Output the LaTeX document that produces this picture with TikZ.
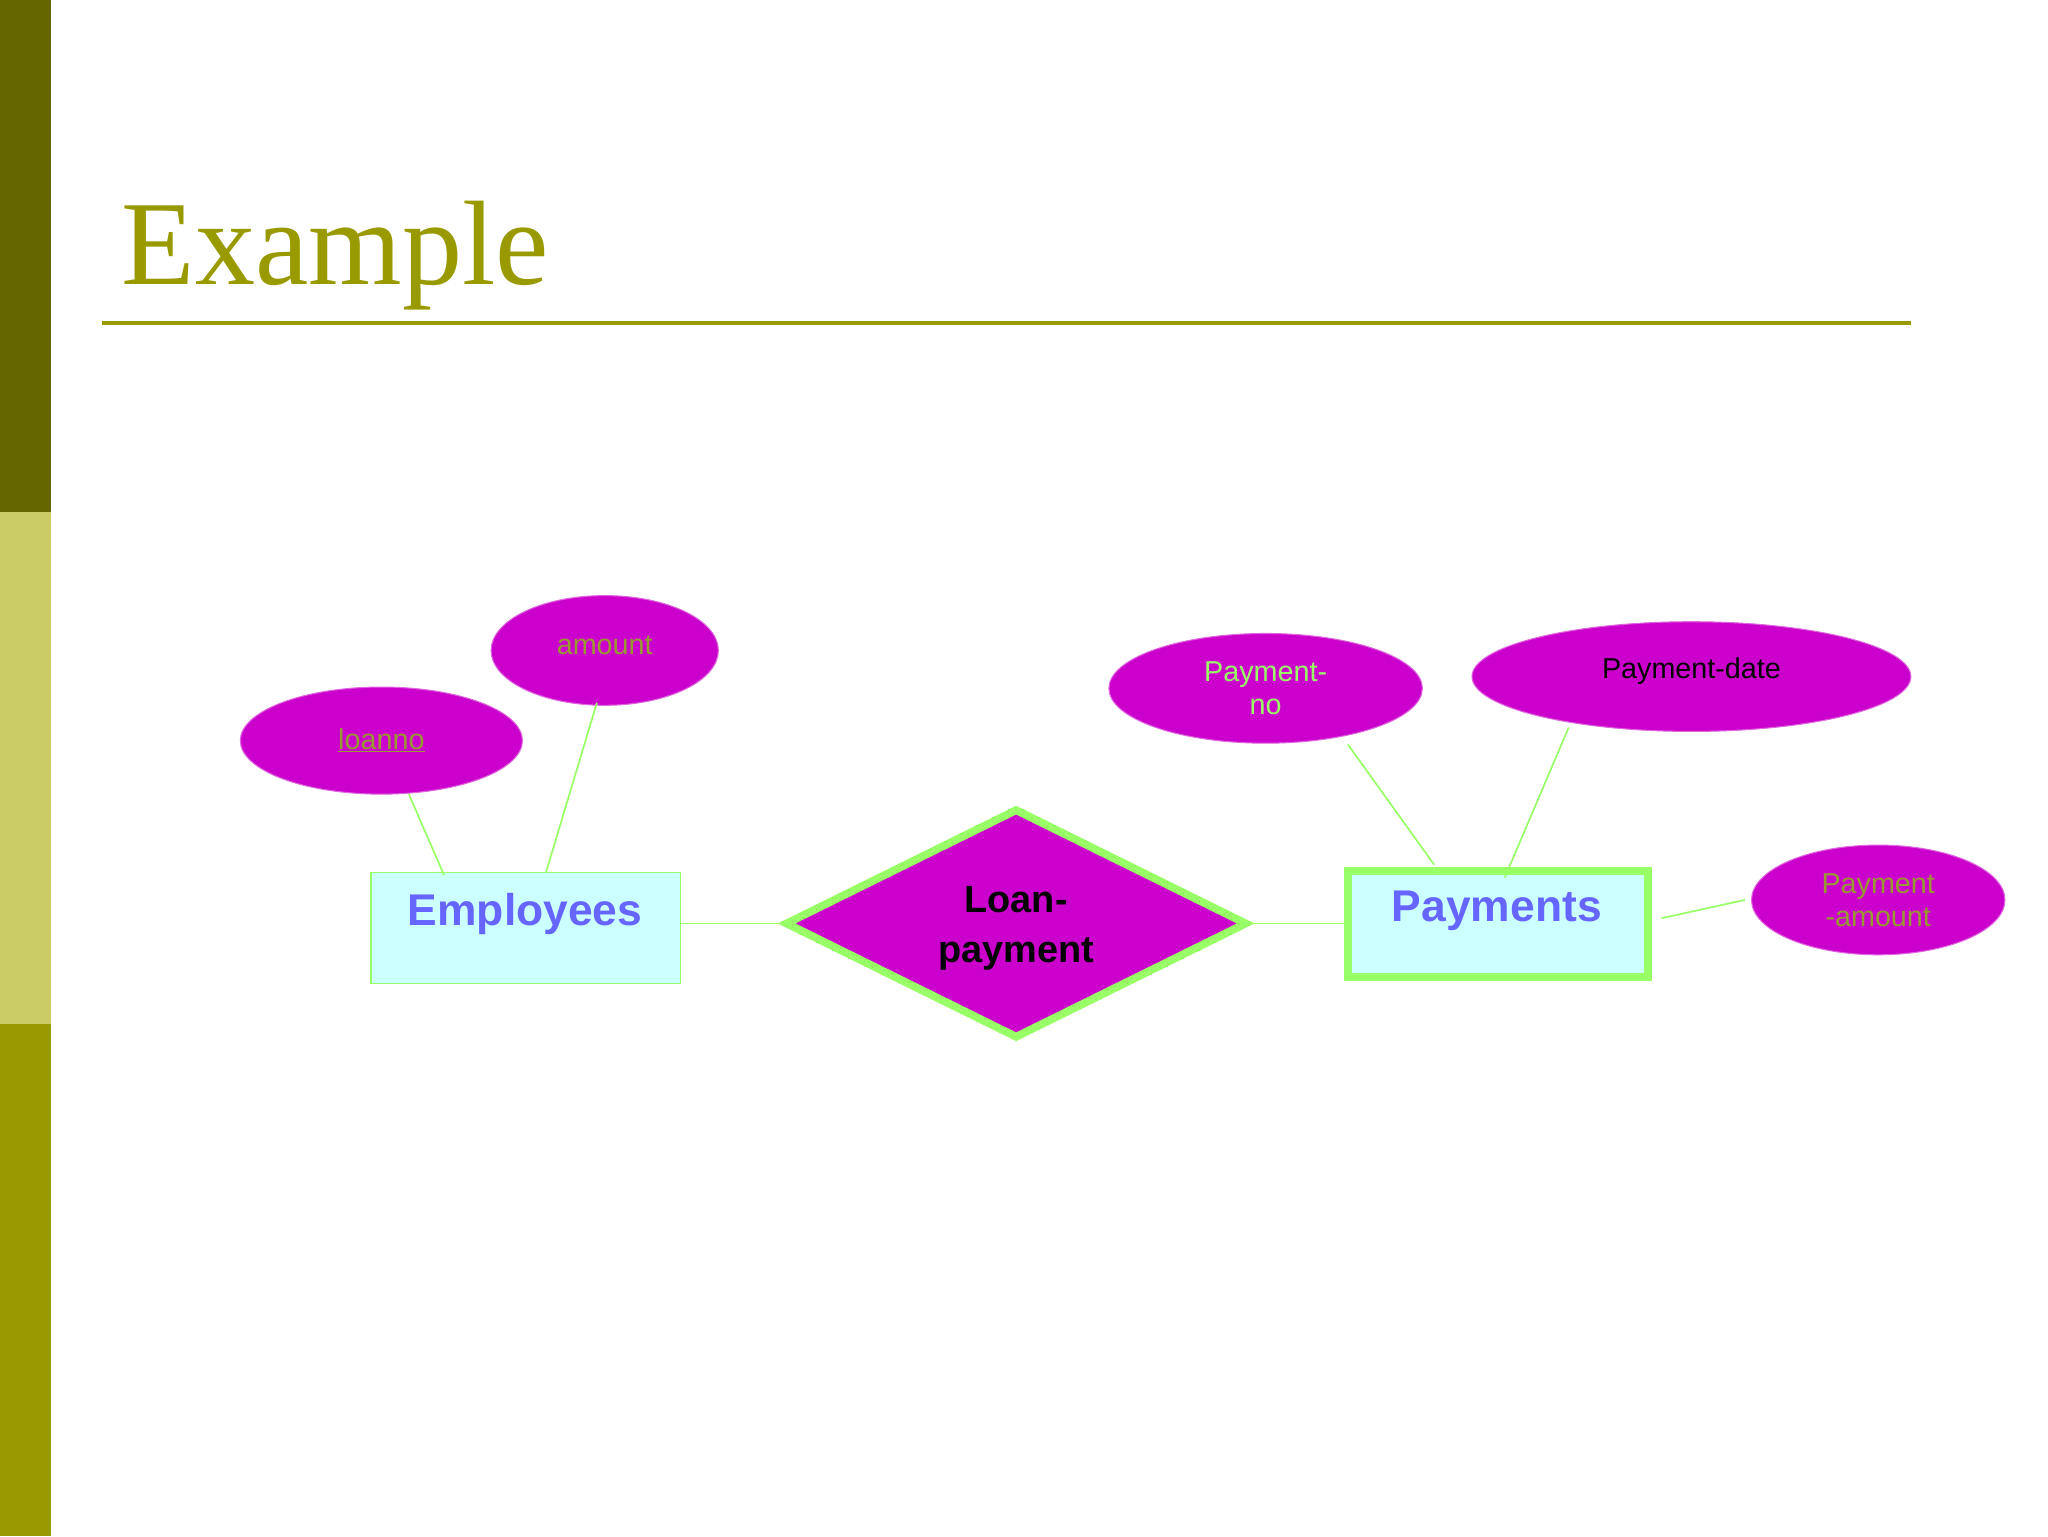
\documentclass[tikz,border=0pt]{standalone}
\usepackage{fontspec}
\setmainfont{Liberation Sans}
\newfontfamily\titlefont{Liberation Serif}
\usetikzlibrary{shapes.geometric}
\definecolor{olivedark}{HTML}{666600}
\definecolor{olivelight}{HTML}{CCCC66}
\definecolor{olivemid}{HTML}{999900}
\definecolor{lgreen}{HTML}{99FF66}
\definecolor{magent}{HTML}{CC00CC}
\definecolor{cyanfill}{HTML}{CCFFFF}
\definecolor{entblue}{HTML}{6666FF}
\definecolor{attrolive}{HTML}{999933}
\begin{document}
\begin{tikzpicture}[x=1pt,y=-1pt,
  attr/.style={ellipse,fill=magent,draw=magent!60,line width=0.8pt,inner sep=0pt,font=\fontsize{22}{25}\selectfont,align=center},
  ent/.style={rectangle,fill=cyanfill,draw=lgreen,inner sep=0pt,font=\fontsize{34}{38}\selectfont\bfseries,text=entblue},
  conn/.style={draw=lgreen,line width=1.3pt}]
\useasboundingbox (0,0) rectangle (1568,1176);
\fill[white] (0,0) rectangle (1568,1176);
\fill[olivedark] (0,0) rectangle (39,392);
\fill[olivelight] (0,392) rectangle (39,784);
\fill[olivemid] (0,784) rectangle (39,1176);
\node[anchor=base west,inner sep=0pt,text=olivemid,font=\titlefont\fontsize{92}{100}\selectfont] (title) at (93,218) {Example};
\draw[olivemid,line width=3pt] (78,247) -- (1463,247);
% entities
\node[ent,line width=1pt,minimum width=237pt,minimum height=85pt] (emp) at (402.5,710.5) {};
\node[text=entblue,font=\fontsize{34}{38}\selectfont\bfseries] (emptext) at (402,700) {Employees};
\node[ent,line width=6pt,minimum width=230pt,minimum height=81pt] (pay) at (1147,707.5) {};
\node[text=entblue,font=\fontsize{34}{38}\selectfont\bfseries] (paytext) at (1146,697) {Payments};
\node[diamond,fill=magent,draw=lgreen,line width=6pt,minimum width=354pt,minimum height=176pt,inner sep=0pt,aspect=2] (rel) at (778,707) {};
\node[font=\fontsize{29}{38}\selectfont\bfseries,align=center] (reltext) at (778,711) {Loan-\\payment};
% attributes
\node[attr,minimum width=216pt,minimum height=82pt,text=attrolive] (loanno) at (292,567) {\underline{loanno}};
\node[attr,minimum width=174pt,minimum height=84pt,text=attrolive] (amount) at (463,498) {};
\node[text=attrolive,font=\fontsize{22}{25}\selectfont] (amounttext) at (463,494) {amount};
\node[attr,minimum width=240pt,minimum height=84pt,text=lgreen] (pno) at (969,527) {Payment-\\no};
\node[attr,minimum width=336pt,minimum height=84pt,text=black] (pdate) at (1295,518) {};
\node[font=\fontsize{22}{25}\selectfont] (pdatetext) at (1295,514) {Payment-date};
\node[attr,minimum width=194pt,minimum height=84pt,text=attrolive] (pamt) at (1438,689) {Payment\\-amount};
% connector points
\coordinate (c1) at (313,608); \coordinate (c1b) at (340,670);
\coordinate (c2) at (457,538); \coordinate (c2b) at (418,668);
\coordinate (c3) at (1032,570); \coordinate (c3b) at (1098,662);
\coordinate (c4) at (1201,557); \coordinate (c4b) at (1152,672);
\coordinate (c5) at (1336,689); \coordinate (c5b) at (1272,703);
\draw[conn] (c1) -- (c1b);
\draw[conn] (c2) -- (c2b);
\draw[conn] (c3) -- (c3b);
\draw[conn] (c4) -- (c4b);
\draw[conn] (c5) -- (c5b);
\draw[conn] (emp.east |- rel) -- (rel.west);
\draw[conn] (rel.east) -- (pay.west |- rel);
\end{tikzpicture}
\end{document}
